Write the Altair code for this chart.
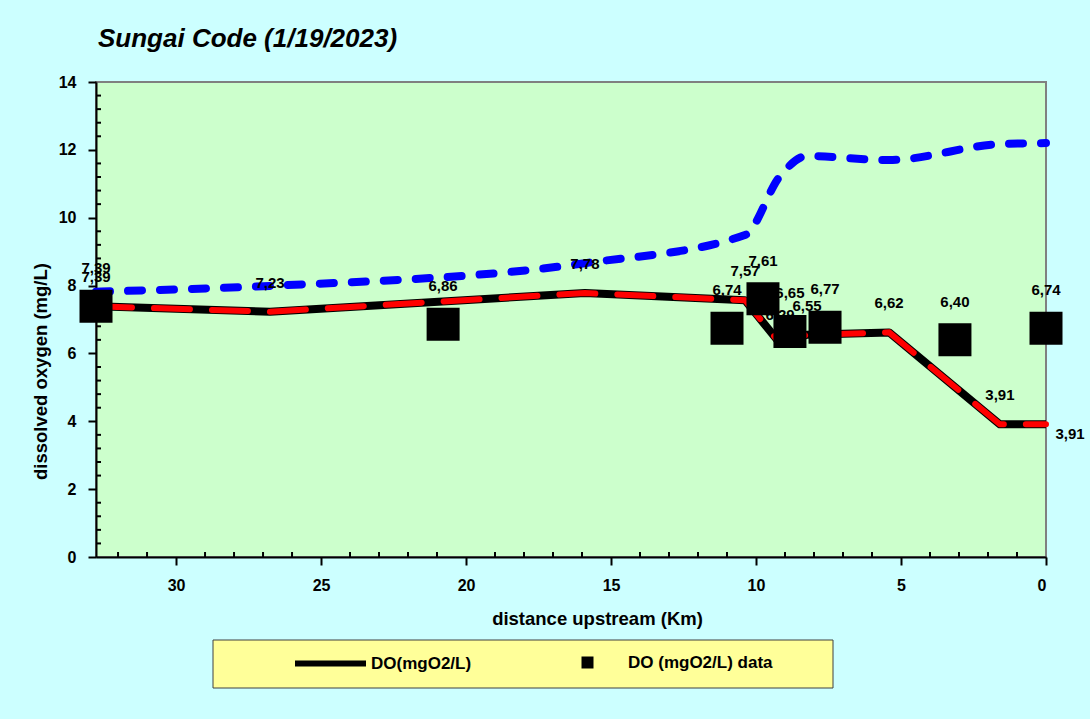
import altair as alt
import pandas as pd

# Model profile (distance upstream in km, dissolved oxygen in mg/L)
LINE_KM = [32.76, 26.76, 15.90, 10.38, 9.17, 8.24, 5.41, 1.59, 0.00]
LINE_DO = [7.39, 7.23, 7.78, 7.57, 6.29, 6.55, 6.62, 3.91, 3.91]

# Upper (saturation) profile at the same stations
SAT_DO = [7.82, 7.99, 8.66, 9.49, 11.23, 11.82, 11.70, 12.17, 12.20]

# Measured samples
OBS_KM = [32.76, 20.79, 11.00, 9.76, 8.83, 7.62, 3.14, 0.00]
OBS_DO = [7.39, 6.86, 6.74, 7.61, 6.65, 6.77, 6.40, 6.74]

LINE_NAME = "DO(mgO2/L)"
OBS_NAME = "DO (mgO2/L) data"
TITLE = "Sungai Code (1/19/2023)"
X_TITLE = "distance upstream (Km)"
Y_TITLE = "dissolved oxygen (mg/L)"

X_MAJOR = [0, 5, 10, 15, 20, 25, 30]
Y_MAJOR = [0, 2, 4, 6, 8, 10, 12, 14]
X_MINOR = [k for k in range(1, 33) if k % 5]
Y_MINOR = [round(v * 0.4, 1) for v in range(1, 36) if v % 5]

FONT = "Liberation Sans"
W, H = 950, 475

line_df = pd.DataFrame({"km": LINE_KM, "do": LINE_DO, "series": LINE_NAME,
                        "idx": range(len(LINE_KM))})
sat_df = pd.DataFrame({"km": LINE_KM, "do": SAT_DO})
obs_df = pd.DataFrame({"km": OBS_KM, "do": OBS_DO, "series": OBS_NAME})
xminor_df = pd.DataFrame({"km": X_MINOR})
yminor_df = pd.DataFrame({"do": Y_MINOR})

x_scale = alt.Scale(domain=[0, 32.76], reverse=True, nice=False, zero=False)
y_scale = alt.Scale(domain=[0, 14], nice=False)

X = alt.X("km:Q", scale=x_scale, axis=alt.Axis(
    values=X_MAJOR, title=X_TITLE, grid=False,
    domainColor="black", domainWidth=2, tickColor="black", tickWidth=2, tickSize=8,
    labelFont=FONT, labelFontSize=16, labelFontWeight="bold", labelColor="black",
    labelPadding=12, titleFont=FONT, titleFontSize=18.5, titleFontWeight="bold",
    titleColor="black", titlePadding=16, titleX=501))
Y = alt.Y("do:Q", scale=y_scale, axis=alt.Axis(
    values=Y_MAJOR, title=Y_TITLE, grid=False,
    domainColor="black", domainWidth=2, tickColor="black", tickWidth=2, tickSize=8,
    labelFont=FONT, labelFontSize=16, labelFontWeight="bold", labelColor="black",
    labelPadding=12, titleFont=FONT, titleFontSize=18.5, titleFontWeight="bold",
    titleColor="black", titleAngle=270, titleBaseline="middle",
    titleX=-56, titleY=289))

fmt = "replace(format(datum.do, '.2f'), '.', ',')"

sat = alt.Chart(sat_df).mark_line(
    color="#0000FF", strokeWidth=8, strokeDash=[14, 18], strokeCap="round",
    interpolate="monotone").encode(x=X, y=Y)

model = alt.Chart(line_df).mark_line(strokeWidth=8, strokeJoin="round").encode(
    x=X, y=Y,
    color=alt.Color("series:N", scale=alt.Scale(domain=[LINE_NAME], range=["black"]),
                    legend=alt.Legend(
                        title=None, orient="none", legendX=196, legendY=543,
                        symbolType="stroke", symbolSize=5041, symbolStrokeWidth=6,
                        symbolStrokeColor="black", labelFont=FONT, labelFontSize=17,
                        labelFontWeight="bold", labelColor="black", labelOffset=2,
                        padding=0)))

model_dash = alt.Chart(line_df).mark_line(
    color="#FF0000", strokeWidth=6, strokeDash=[36, 22], strokeCap="round").encode(x=X, y=Y)

model_labels = alt.Chart(line_df).transform_filter("datum.idx < 8").transform_calculate(
    lbl=fmt).mark_text(font=FONT, fontSize=15, fontWeight="bold", color="black",
                       dy=-29, baseline="middle").encode(x=X, y=Y, text="lbl:N")
end_label = alt.Chart(line_df).transform_filter("datum.idx == 8").transform_calculate(
    lbl=fmt).mark_text(font=FONT, fontSize=15, fontWeight="bold", color="black",
                       dx=24, dy=10, baseline="middle").encode(x=X, y=Y, text="lbl:N")

obs_labels = alt.Chart(obs_df).transform_calculate(lbl=fmt).mark_text(
    font=FONT, fontSize=15, fontWeight="bold", color="black", dy=-38,
    baseline="middle").encode(x=X, y=Y, text="lbl:N")

obs = alt.Chart(obs_df).mark_point(
    shape="square", filled=True, size=1089, color="black", opacity=1).encode(
    x=X, y=Y,
    shape=alt.Shape("series:N", scale=alt.Scale(domain=[OBS_NAME], range=["square"]),
                    legend=alt.Legend(
                        title=None, orient="none", legendX=483, legendY=572,
                        symbolType="square", symbolSize=144, symbolFillColor="black",
                        symbolStrokeWidth=0, labelFont=FONT, labelFontSize=17,
                        labelFontWeight="bold", labelColor="black", labelOffset=32,
                        padding=0)))

# inward minor ticks
x_minor = alt.Chart(xminor_df).mark_rule(color="black", strokeWidth=2).encode(
    x=X, y=alt.value(H), y2=alt.value(H - 5))
y_minor = alt.Chart(yminor_df).mark_rule(color="black", strokeWidth=2).encode(
    y=Y, x=alt.value(0), x2=alt.value(5))

# legend frame
frame = alt.Chart(pd.DataFrame({"k": [0]})).mark_rect(
    fill="#FFFF99", stroke="#404040", strokeWidth=1).encode(
    x=alt.value(117), x2=alt.value(737), y=alt.value(558), y2=alt.value(606))

chart = alt.layer(
    frame, sat, model, model_dash, model_labels, end_label, obs_labels, obs,
    x_minor, y_minor
).resolve_legend(color="independent", shape="independent").properties(
    width=W, height=H,
    autosize="none",
    padding={"left": 96, "top": 82, "right": 44, "bottom": 162},
    background="#CCFFFF",
    title=alt.TitleParams(TITLE, anchor="start", frame="group", font=FONT,
                          fontSize=26, fontStyle="italic", fontWeight="bold",
                          color="black", dx=2, offset=22),
).configure_view(fill="#CCFFCC", stroke="#808080", strokeWidth=2)

chart.save("out.html", embed_options={"renderer": "svg", "actions": False})
